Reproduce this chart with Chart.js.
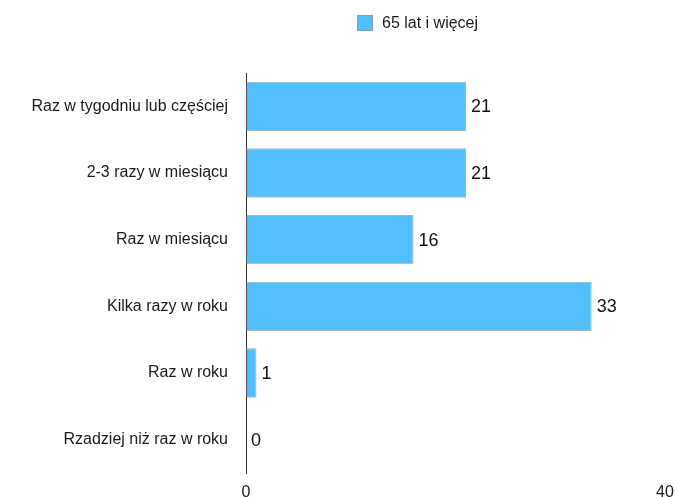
<!DOCTYPE html>
<html>
<head>
<meta charset="utf-8">
<script src="https://cdn.jsdelivr.net/npm/chart.js@4/dist/chart.umd.min.js"></script>
<style>
  html, body { margin: 0; padding: 0; background: #fff; }
  #wrap { width: 678px; height: 497px; }
</style>
</head>
<body>
<div id="wrap"><canvas id="chart" width="678" height="497"></canvas></div>
<script>
// categories and values
var categories = [
  'Raz w tygodniu lub częściej',
  '2-3 razy w miesiącu',
  'Raz w miesiącu',
  'Kilka razy w roku',
  'Raz w roku',
  'Rzadziej niż raz w roku'
];
var seniors = [21, 21, 16, 33, 1, 0];
var seriesName = '65 lat i więcej';
var xTicks = [0, 40];

var barColor = '#50BFFC';
var fontFamily = '"Liberation Sans", Arial, Helvetica, sans-serif';

// value labels to the right of each bar
var valueLabels = {
  id: 'valueLabels',
  afterDatasetsDraw(chart) {
    var ctx = chart.ctx;
    var meta = chart.getDatasetMeta(0);
    ctx.save();
    ctx.font = '18px ' + fontFamily;
    ctx.fillStyle = '#111';
    ctx.textAlign = 'left';
    ctx.textBaseline = 'middle';
    meta.data.forEach(function (bar, i) {
      ctx.fillText(String(seniors[i]), bar.x + 5, bar.y + 1);
    });
    ctx.restore();
  }
};

// legend drawn by hand so it sits where the original had it
var topLegend = {
  id: 'topLegend',
  afterDraw(chart) {
    var ctx = chart.ctx;
    ctx.save();
    ctx.fillStyle = barColor;
    ctx.strokeStyle = 'rgba(110,110,110,0.6)';
    ctx.lineWidth = 1;
    ctx.fillRect(357.5, 15.5, 15, 15);
    ctx.strokeRect(357.5, 15.5, 15, 15);
    ctx.font = '16px ' + fontFamily;
    ctx.fillStyle = '#1a1a1a';
    ctx.textBaseline = 'middle';
    ctx.fillText(seriesName, 382, 24);
    ctx.restore();
  }
};

new Chart(document.getElementById('chart'), {
  type: 'bar',
  data: {
    labels: categories,
    datasets: [{
      label: seriesName,
      data: seniors,
      backgroundColor: barColor,
      borderColor: 'rgba(110,110,110,0.55)',
      borderWidth: 1,
      borderSkipped: false,
      barPercentage: 0.74,
      categoryPercentage: 1
    }]
  },
  options: {
    indexAxis: 'y',
    responsive: false,
    animation: false,
    layout: { padding: { top: 73, right: 13, left: 0, bottom: 0 } },
    plugins: {
      legend: { display: false },
      tooltip: { enabled: false }
    },
    scales: {
      x: {
        min: xTicks[0],
        max: xTicks[xTicks.length - 1],
        afterBuildTicks(scale) {
          scale.ticks = xTicks.map(function (v) { return { value: v }; });
        },
        afterFit(scale) {
          scale.height = 24;
          scale.paddingLeft = 0;
          scale.paddingRight = 0;
        },
        grid: { display: false, drawTicks: false },
        border: { display: false },
        ticks: {
          padding: 10,
          maxRotation: 0,
          color: '#1a1a1a',
          font: { size: 16, family: fontFamily }
        }
      },
      y: {
        afterFit(scale) {
          scale.width = 246;
          scale.paddingTop = 0;
          scale.paddingBottom = 0;
        },
        grid: { display: false, drawTicks: false },
        border: { display: true, color: '#333', width: 1 },
        ticks: {
          padding: 18,
          color: '#1a1a1a',
          font: { size: 16, family: fontFamily }
        }
      }
    }
  },
  plugins: [valueLabels, topLegend]
});
</script>
</body>
</html>
